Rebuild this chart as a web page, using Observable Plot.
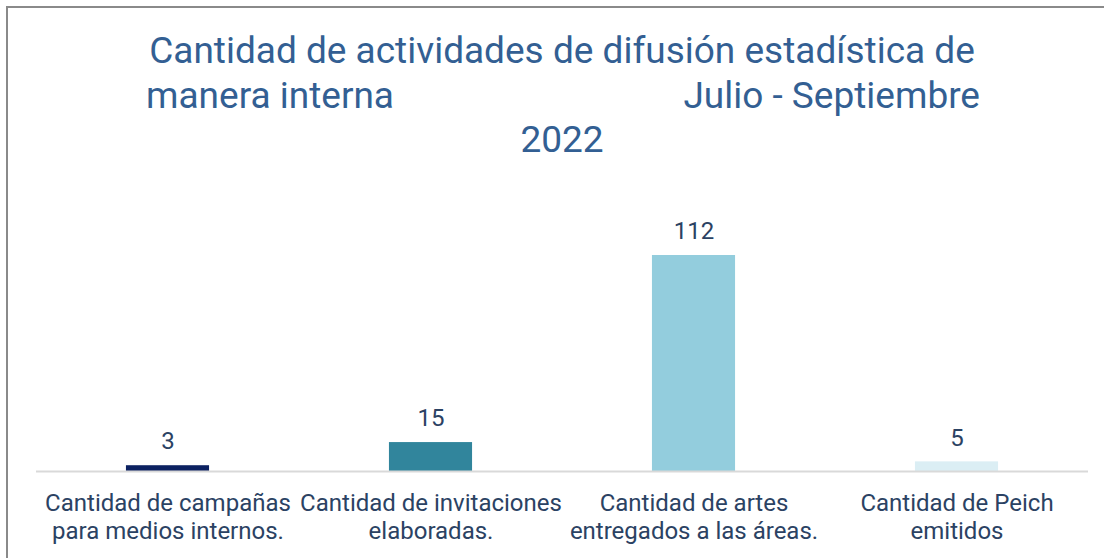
<!DOCTYPE html>
<html>
<head>
<meta charset="utf-8">
<script src="https://cdn.jsdelivr.net/npm/d3@7"></script>
<script src="https://cdn.jsdelivr.net/npm/@observablehq/plot@0.6"></script>
<style>
  html, body { margin: 0; padding: 0; background: #fff; }
  body { width: 1104px; height: 558px; position: relative; overflow: hidden; font-family: Roboto, "Noto Sans", sans-serif; }
  #frame { position: absolute; left: 6px; top: 6px; width: 1200px; height: 700px; border-left: 2px solid #8a8a8a; border-top: 2px solid #8a8a8a; }
  .t { position: absolute; color: #335f93; font-size: 37px; white-space: nowrap; line-height: 1; }
  #chart { position: absolute; left: 0; top: 161px; }
</style>
</head>
<body>
<div id="frame"></div>
<div class="t" id="t1" style="left:0;width:1124px;text-align:center;top:32px;">Cantidad de actividades de difusión estadística de</div>
<div class="t" id="t2a" style="left:146px;top:77px;">manera interna</div>
<div class="t" id="t2b" style="right:124px;top:77px;">Julio - Septiembre</div>
<div class="t" id="t3" style="left:0;width:1124px;text-align:center;top:121px;">2022</div>
<div id="chart"></div>
<script>
const categories = [
  "Cantidad de campañas para medios internos.",
  "Cantidad de invitaciones elaboradas.",
  "Cantidad de artes entregados a las áreas.",
  "Cantidad de Peich emitidos"
];
const tickLabels = [
  "Cantidad de campañas\npara medios internos.",
  "Cantidad de invitaciones\nelaboradas.",
  "Cantidad de artes\nentregados a las áreas.",
  "Cantidad de Peich\nemitidos"
];
const values = [3, 15, 112, 5];
const colors = ["#0c2161", "#31859c", "#93cddd", "#dbeef4"];

const data = categories.map((c, i) => ({cat: c, label: tickLabels[i], value: values[i], color: colors[i]}));

const chart = Plot.plot({
  width: 1104,
  height: 397,
  marginLeft: 36,
  marginRight: 16,
  marginTop: 94,
  marginBottom: 87,
  style: {fontFamily: "Roboto, sans-serif", background: "transparent"},
  x: {domain: categories, paddingInner: 0.684, paddingOuter: 0.342, round: false, axis: null},
  y: {domain: [0, 112], axis: null},
  marks: [
    Plot.barY(data, {x: "cat", y: "value", fill: "color"}),
    Plot.ruleY([0], {stroke: "#d9d9d9", strokeWidth: 2}),
    Plot.text(data, {x: "cat", y: "value", text: d => String(d.value), dy: -24, fontSize: 24, fill: "#2b4263"}),
    Plot.text(data, {x: "cat", y: 0, text: "label", lineAnchor: "top", dy: 20, fontSize: 24, lineHeight: 1.167, fill: "#2b4263"})
  ]
});
document.getElementById("chart").appendChild(chart);
</script>
</body>
</html>
